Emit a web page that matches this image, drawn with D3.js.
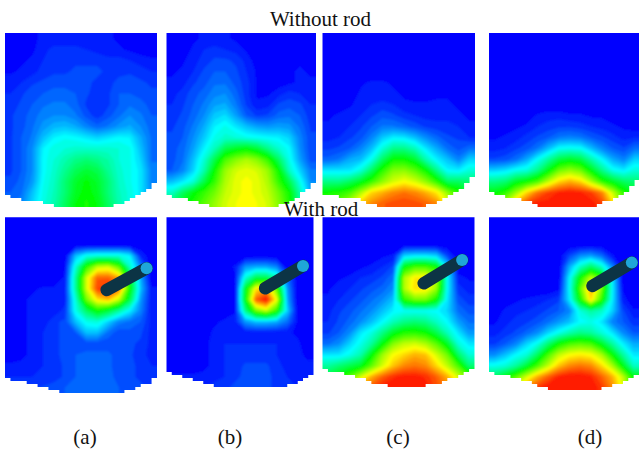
<!DOCTYPE html>
<html>
<head>
<meta charset="utf-8">
<script src="https://cdn.jsdelivr.net/npm/d3@7"></script>
<style>
  html, body { margin: 0; padding: 0; background: #fff; }
  svg { display: block; }
  text { font-family: "Liberation Serif", serif; fill: #111; }
</style>
</head>
<body>
<svg id="chart" width="639" height="450"></svg>
<script>
// field values, 14 columns x 16 rows (0 = blue, 100 = red)
const topA = [
  [0,1,2,3,3,3,3,3,3,3,2,1,1,0],
  [0,1,2,4,6,6,6,5,4,3,3,2,1,1],
  [1,2,3,5,6,7,7,7,7,6,6,5,4,3],
  [2,3,4,6,7,7,8,8,8,7,7,7,6,5],
  [4,5,7,8,9,9,9,8,7,7,8,9,8,7],
  [5,7,9,10,11,11,10,8,6,7,10,10,9,8],
  [6,8,10,12,13,13,11,7,5,7,10,12,11,9],
  [7,9,11,14,15,15,13,9,6,9,12,15,13,10],
  [7,9,12,16,19,20,18,14,11,13,16,18,15,11],
  [7,10,13,20,25,27,26,24,22,24,26,25,18,12],
  [7,10,15,25,29,30,31,31,31,31,30,28,20,12],
  [7,10,15,26,30,34,38,40,38,35,30,28,22,12],
  [7,10,15,26,31,37,43,46,44,37,31,28,24,14],
  [8,11,16,27,32,40,47,51,47,40,32,28,24,14],
  [10,12,20,28,33,40,48,52,48,40,33,29,24,15],
  [12,14,22,29,34,42,50,53,50,42,34,29,24,15]
];
const topB = [
  [0,0,2,3,3,3,2,1,0,0,0,0,0,0],
  [0,1,3,5,6,5,4,2,0,0,0,0,0,0],
  [1,2,4,6,8,8,7,4,1,0,0,1,2,1],
  [2,3,5,8,10,10,8,5,2,1,1,2,3,2],
  [3,4,7,9,12,12,9,6,2,1,1,2,3,3],
  [4,6,9,11,14,15,11,6,2,2,4,6,5,4],
  [5,7,10,13,17,18,13,7,3,4,8,9,8,5],
  [6,8,11,15,21,23,17,10,7,8,11,12,10,6],
  [7,9,13,18,25,28,24,20,17,16,17,16,12,7],
  [8,10,15,21,28,31,30,28,27,26,25,22,14,8],
  [9,11,17,25,33,44,48,50,46,38,31,26,15,8],
  [9,12,20,30,44,58,64,68,64,56,42,28,17,9],
  [10,14,22,34,52,66,72,74,72,66,52,32,22,13],
  [20,24,30,44,56,68,74,76,74,68,56,44,28,15],
  [32,42,50,56,62,70,74,76,74,70,62,52,34,18],
  [40,48,54,60,66,72,75,76,75,72,64,54,36,20]
];
const topC = [
  [0,0,0,0,0,0,0,0,0,0,0,0,0,0],
  [0,0,0,0,0,0,0,0,0,0,0,0,0,0],
  [0,0,0,0,0,0,0,0,0,0,0,0,0,0],
  [0,0,0,0,0,0,0,0,0,0,0,0,0,0],
  [0,0,0,2,3,3,2,0,0,0,0,0,0,0],
  [0,0,1,3,3,3,3,2,1,1,2,2,1,0],
  [0,1,2,4,5,6,5,3,3,3,3,3,2,1],
  [2,3,4,5,7,9,8,6,5,4,4,4,3,2],
  [3,4,5,7,10,13,13,11,9,7,6,6,5,3],
  [4,5,7,9,14,21,25,24,20,15,11,8,7,5],
  [7,8,10,14,20,30,38,38,33,24,18,12,9,12],
  [11,13,18,20,28,42,52,52,47,34,25,20,14,22],
  [24,24,24,30,42,55,64,65,60,52,38,26,25,30],
  [38,38,42,48,56,65,72,76,72,65,55,42,42,40],
  [52,54,58,68,80,84,88,90,88,84,78,65,55,45],
  [58,62,70,82,88,92,94,95,94,92,88,75,60,50]
];
const topD = [
  [0,0,0,0,0,0,0,0,0,0,0,0,0,0],
  [0,0,0,0,0,0,0,0,0,0,0,0,0,0],
  [0,0,0,0,0,0,0,0,0,0,0,0,0,0],
  [0,0,0,0,0,0,0,0,0,0,0,0,0,0],
  [0,0,0,0,0,0,0,0,0,0,0,0,0,0],
  [0,0,0,0,0,0,0,0,0,0,0,0,0,0],
  [0,0,0,0,0,0,0,0,0,0,0,0,0,0],
  [0,0,0,1,3,4,4,3,3,2,2,1,1,0],
  [0,1,2,3,5,6,7,7,6,5,4,3,2,1],
  [2,3,4,6,8,10,13,14,13,10,8,6,4,5],
  [4,5,7,9,13,20,27,28,27,20,14,10,8,12],
  [8,9,12,18,27,36,45,48,45,35,26,18,14,22],
  [22,24,28,30,38,50,62,66,62,50,38,28,25,30],
  [38,40,48,52,58,70,80,84,80,68,55,48,42,40],
  [50,55,66,80,90,95,98,99,98,95,88,70,55,48],
  [60,70,85,95,99,99,100,100,100,99,95,80,60,50]
];
const rodA = [
  [0,0,0,0,0,0,0,0,0,0,0,0,0,0],
  [0,0,0,0,0,0,0,0,0,0,0,0,0,0],
  [0,0,0,0,0,0,0,0,0,0,0,0,0,0],
  [0,0,0,0,0,0,20,28,30,30,30,25,5,0],
  [0,0,0,0,0,2,30,55,70,72,60,32,14,0],
  [0,0,0,0,0,3,36,72,92,92,85,48,18,0],
  [0,1,2,3,3,4,36,72,95,100,90,52,20,3],
  [0,2,3,3,3,4,30,62,78,82,70,44,16,3],
  [0,2,3,3,3,6,28,42,52,46,36,25,14,3],
  [0,2,3,3,7,8,20,28,30,22,14,12,10,4],
  [0,2,3,5,7,8,10,20,20,12,8,9,8,4],
  [0,2,3,5,7,8,8,8,8,8,8,8,7,4],
  [1,2,3,5,7,8,10,11,11,11,8,8,6,4],
  [3,3,4,5,6,8,10,11,12,11,8,8,7,5],
  [5,5,5,5,6,8,10,12,12,11,9,8,7,6],
  [6,7,7,8,9,10,11,12,12,12,10,9,8,7]
];
const rodB = [
  [0,0,0,0,0,0,0,0,0,0,0,0,0,0],
  [0,0,0,0,0,0,0,0,0,0,0,0,0,0],
  [0,0,0,0,0,0,0,0,0,0,0,0,0,0],
  [0,0,0,0,0,0,0,0,0,0,0,0,0,0],
  [0,0,0,0,0,0,3,16,18,18,14,0,0,0],
  [0,0,0,0,0,0,2,30,44,44,34,12,0,0],
  [0,0,0,0,0,0,0,48,78,85,60,16,0,0],
  [0,0,0,0,0,0,0,50,92,100,75,18,0,0],
  [0,0,0,0,0,1,2,38,62,70,55,22,1,0],
  [0,0,0,0,2,3,4,16,20,20,18,12,2,0],
  [0,0,0,1,3,3,3,3,3,3,3,3,2,0],
  [0,0,1,2,3,5,5,5,5,5,5,4,3,1],
  [0,0,1,2,3,5,5,6,6,6,5,4,3,2],
  [1,1,1,2,3,5,6,8,8,8,6,4,3,3],
  [3,3,3,3,4,5,7,8,8,8,7,5,4,3],
  [4,4,4,5,6,7,8,8,8,8,7,6,5,4]
];
const rodC = [
  [0,0,0,0,0,0,0,0,0,0,0,0,0,0],
  [0,0,0,0,0,0,0,0,0,0,0,0,0,0],
  [0,0,0,0,0,0,0,0,0,0,0,0,0,0],
  [0,0,0,0,1,2,3,22,24,24,22,8,0,0],
  [0,0,1,2,3,5,8,50,58,58,52,24,0,0],
  [0,2,3,5,6,8,12,68,78,78,68,26,4,2],
  [2,4,5,7,9,11,15,68,80,78,66,26,6,4],
  [3,5,7,9,12,15,20,55,62,62,52,24,9,6],
  [4,7,9,12,15,20,25,27,27,27,26,22,12,9],
  [5,8,11,15,20,26,33,38,40,38,32,26,17,12],
  [7,10,15,24,29,38,48,54,55,52,44,33,24,16],
  [12,15,22,28,36,50,64,70,72,68,60,48,30,24],
  [24,24,28,34,50,66,76,80,84,82,72,62,42,30],
  [36,40,44,48,60,72,82,88,90,88,80,70,58,40],
  [46,52,60,72,84,92,97,99,99,97,92,84,72,60],
  [50,60,74,88,94,99,100,100,100,99,94,88,74,60]
];
const rodD = [
  [0,0,0,0,0,0,0,0,0,0,0,0,0,0],
  [0,0,0,0,0,0,0,0,0,0,0,0,0,0],
  [0,0,0,0,0,0,0,0,0,0,0,0,0,0],
  [0,0,0,0,0,0,0,8,15,17,12,3,0,0],
  [0,0,0,0,0,0,0,18,32,42,32,15,0,0],
  [0,0,0,0,0,0,0,25,52,70,58,25,0,0],
  [0,0,0,0,0,0,2,26,60,85,64,26,2,0],
  [0,1,2,3,4,5,7,24,52,80,56,25,4,0],
  [1,3,4,5,6,8,10,14,30,36,32,22,8,3],
  [2,4,6,7,9,12,16,20,26,28,24,14,10,6],
  [4,6,8,11,15,22,28,34,38,36,30,24,15,10],
  [7,10,14,22,28,40,52,58,60,58,48,36,25,18],
  [15,20,26,30,42,58,70,76,78,76,68,52,36,24],
  [28,30,36,46,58,70,82,88,90,88,80,68,50,32],
  [42,50,60,72,84,92,98,100,100,98,92,84,70,50],
  [50,60,74,88,96,100,100,100,100,100,96,88,74,55]
];

// lower rim of the measured region, in grid rows, at the 15 column boundaries
const rimTopA = [14.85,15.09,15.24,15.39,15.6,15.9,15.9,15.9,15.9,15.9,15.6,15.3,14.85,14.1,13.2];
const rimTopB = [14.85,15.03,15.24,15.45,15.76,15.82,15.82,15.82,15.82,15.82,15.82,15.5,15,14.1,12.9];
const rimTopC = [14.7,14.85,14.9,15.03,15.45,15.76,15.76,15.76,15.76,15.76,15.45,15.1,14.5,13.6,12.7];
const rimTopD = [14.4,14.85,15,15.2,15.6,15.9,15.9,15.9,15.9,15.9,15.5,15.24,14.7,13.94,13.03];
const rimRodA = [14.73,14.94,15.09,15.33,15.7,15.94,16,16,16,16,16,15.76,15.39,15.03,14.03];
const rimRodB = [14.12,14.33,14.64,14.94,15.15,15.45,15.55,15.55,15.55,15.55,15.55,15.39,15.09,14.73,14.03];
const rimRodC = [13.88,14.12,14.24,14.48,14.94,15.15,15.33,15.33,15.33,15.33,15.24,14.94,14.48,14.03,13.73];
const rimRodD = [14.18,14.33,14.55,14.79,15.15,15.55,15.64,15.64,15.64,15.64,15.64,15.39,15.15,14.73,14.18];

// rod ends in grid units: [base col, base row, tip col, tip row]
const rodEnds = [
  [9.36,6.6,13.04,4.64],
  [9.39,6.45,13,4.42],
  [9.32,6,12.86,3.88],
  [9.66,6.24,13.33,4.12]
];

const captions = ["(a)", "(b)", "(c)", "(d)"];
const captionX = [85, 230, 398, 590];

const nCols = 14, nRows = 16, panelH = 176;

const panels = [
  {grid: topA, rim: rimTopA, x: 5, y: 33, w: 152},
  {grid: topB, rim: rimTopB, x: 166.5, y: 33, w: 149.5},
  {grid: topC, rim: rimTopC, x: 322.5, y: 33, w: 152.5},
  {grid: topD, rim: rimTopD, x: 489, y: 33, w: 151},
  {grid: rodA, rim: rimRodA, x: 5, y: 217.3, w: 152, rod: rodEnds[0]},
  {grid: rodB, rim: rimRodB, x: 166.5, y: 217.3, w: 147, rod: rodEnds[1]},
  {grid: rodC, rim: rimRodC, x: 322.5, y: 217.3, w: 152, rod: rodEnds[2]},
  {grid: rodD, rim: rimRodD, x: 489, y: 217.3, w: 150, rod: rodEnds[3]}
];

const svg = d3.select("#chart");

svg.append("defs").append("filter")
    .attr("id", "soft")
    .attr("x", "-5%").attr("y", "-5%").attr("width", "110%").attr("height", "110%")
  .append("feGaussianBlur")
    .attr("stdDeviation", 0.9);

const color = d3.scaleLinear()
    .domain([0, 25, 50, 75, 100])
    .range(["#0000ff", "#00ffff", "#00ff00", "#ffff00", "#ff0000"]);

const thresholds = d3.range(0, 100, 2.5);

// repeat the border cells so the contours run past the panel edge and the clip cuts them square
function padGrid(grid) {
    const rows = grid.map(r => [r[0], ...r, r[r.length - 1]]);
    return [rows[0], ...rows, rows[rows.length - 1]];
}

panels.forEach((p, i) => {
    const xScale = d3.scaleLinear().domain([0, nCols]).range([p.x, p.x + p.w]);
    const yScale = d3.scaleLinear().domain([0, nRows]).range([p.y, p.y + panelH]);

    const contours = d3.contours()
        .size([nCols + 2, nRows + 2])
        .thresholds(thresholds)(padGrid(p.grid).flat());

    const path = d3.geoPath(d3.geoTransform({
        point(x, y) { this.stream.point(xScale(x - 1), yScale(y - 1)); }
    }));

    // stepped lower rim, sampled from the rim array
    const rimY = d3.scaleLinear().domain(d3.range(nCols + 1)).range(p.rim);
    const steps = d3.range(0, nCols + 0.01, 0.5).map(c => [xScale(c), Math.round(yScale(rimY(c)) / 3) * 3]);
    const rimLine = d3.line().curve(d3.curveStepAfter)(steps);
    const clipD = `M${xScale(0)},${yScale(0)}L${xScale(nCols)},${yScale(0)}L${steps[steps.length - 1].join(",")}`
        + `L${rimLine.slice(1).split(/[ML]/).reverse().join("L")}Z`;

    svg.select("defs").append("clipPath")
        .attr("id", `clip${i}`)
      .append("path")
        .attr("d", clipD);

    const g = svg.append("g").attr("clip-path", `url(#clip${i})`);

    g.append("g")
        .attr("filter", "url(#soft)")
      .selectAll("path")
      .data(contours)
      .join("path")
        .attr("d", path)
        .attr("fill", d => color(d.value));

    if (p.rod) {
        const [c0, r0, c1, r1] = p.rod;
        svg.append("line")
            .attr("x1", xScale(c0)).attr("y1", yScale(r0))
            .attr("x2", xScale(c1)).attr("y2", yScale(r1))
            .attr("stroke", "#0c3445")
            .attr("stroke-width", 12.5)
            .attr("stroke-linecap", "round");
        svg.append("circle")
            .attr("cx", xScale(c1)).attr("cy", yScale(r1))
            .attr("r", 6)
            .attr("fill", "#1fa6d8");
    }
});

svg.append("text")
    .attr("x", 320.5).attr("y", 26)
    .attr("text-anchor", "middle")
    .attr("font-size", 21)
    .text("Without rod");

svg.append("text")
    .attr("x", 321).attr("y", 216)
    .attr("text-anchor", "middle")
    .attr("font-size", 21)
    .text("With rod");

svg.selectAll(".caption")
  .data(captions)
  .join("text")
    .attr("class", "caption")
    .attr("x", (d, i) => captionX[i])
    .attr("y", 444)
    .attr("text-anchor", "middle")
    .attr("font-size", 21)
    .text(d => d);
</script>
</body>
</html>
